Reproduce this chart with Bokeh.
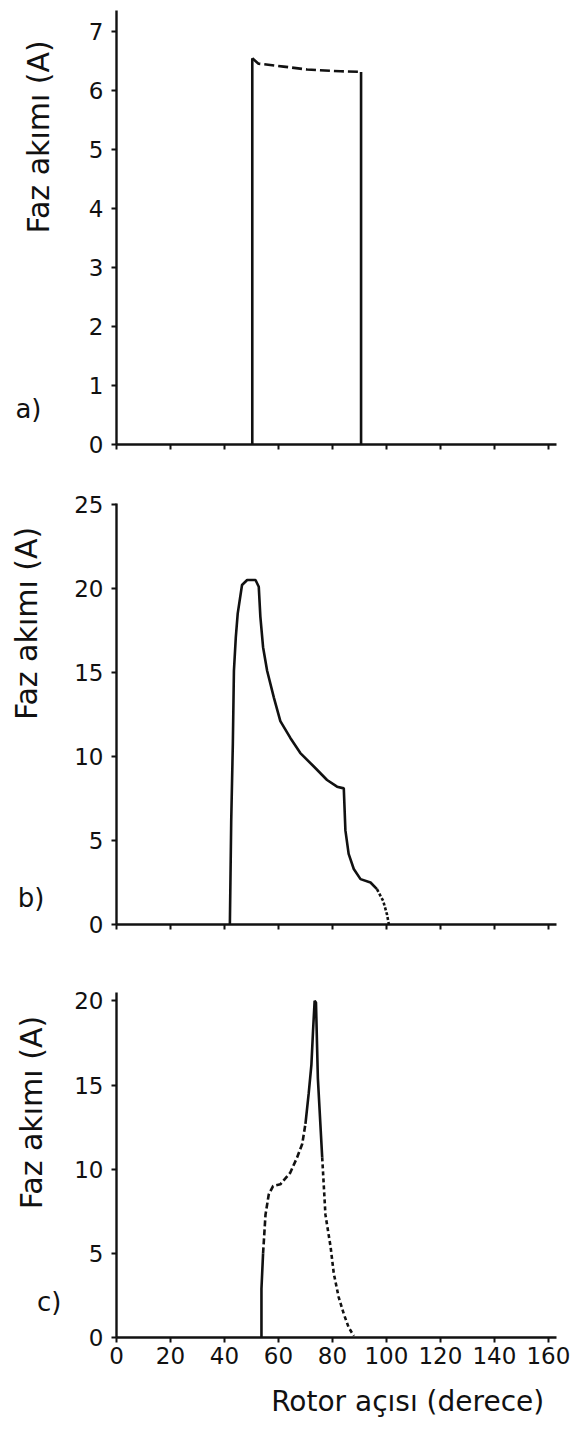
import math
from bokeh.plotting import figure
from bokeh.models import Range1d, FixedTicker, LinearAxis, CustomJSTickFormatter
from bokeh.layouts import column
from bokeh.embed import file_html
from bokeh.resources import INLINE

# ---- data ----
x_ticks = [0, 20, 40, 60, 80, 100, 120, 140, 160]
a_yticks = [0, 1, 2, 3, 4, 5, 6, 7]
b_yticks = [0, 5, 10, 15, 20, 25]
c_yticks = [0, 5, 10, 15, 20]

# a) rectangular pulse
a_deg = [50.3, 50.3, 52.6, 61.9, 70.6, 83.0, 90.6, 90.6]
a_cur = [0.0, 6.54, 6.45, 6.40, 6.35, 6.32, 6.31, 0.0]

# b)
b_deg = [42.0, 42.5, 43.1, 43.5, 44.2, 44.9, 46.5, 48.4, 51.5, 52.7, 53.3, 54.3,
         55.8, 58.3, 60.7, 64.4, 68.1, 73.1, 78.0, 81.7, 84.2, 84.8, 86.0, 87.9,
         90.4, 94.1, 96.5, 98.8, 100.2, 100.9]
b_cur = [0.0, 6.2, 10.75, 15.1, 17.1, 18.5, 20.2, 20.5, 20.5, 20.1, 18.3, 16.5,
         15.1, 13.5, 12.1, 11.1, 10.2, 9.4, 8.6, 8.2, 8.1, 5.6, 4.2, 3.3,
         2.7, 2.5, 2.1, 1.4, 0.6, 0.0]

# c)
c_deg = [53.7, 53.7, 54.3, 55.2, 56.4, 58.0, 60.7, 64.4, 66.9, 68.8, 70.0, 71.2,
         72.2, 72.8, 73.4, 73.9, 74.6, 76.2, 77.4, 79.3, 80.5, 82.3, 84.2, 86.0, 87.9]
c_cur = [0.0, 2.9, 5.0, 7.3, 8.5, 9.0, 9.1, 9.8, 10.7, 11.5, 12.7, 14.5,
         16.2, 18.2, 20.0, 19.9, 15.4, 10.7, 7.3, 5.4, 3.8, 2.4, 1.4, 0.6, 0.1]

y_label = "Faz akımı (A)"
x_label = "Rotor açısı (derece)"
panel_tags = ["a)", "b)", "c)"]

FONT = "DejaVu Sans"
INK = "#111111"
W = 572
X_END = 163
NBSP = "\u00a0"
LW = 2.6


def make_fig(height, top, bottom, ymax, yticks, show_xlabels, label_standoff, pad):
    p = figure(width=W, height=height, x_range=Range1d(0, X_END),
               y_range=Range1d(0, ymax), output_backend="svg",
               toolbar_location=None, min_border_left=116, min_border_right=16,
               min_border_top=top, min_border_bottom=bottom)
    p.outline_line_color = None
    p.grid.visible = False
    p.background_fill_color = None
    p.border_fill_color = None
    for ax in (p.xaxis[0], p.yaxis[0]):
        ax.axis_line_width = 2.4
        ax.axis_line_color = INK
        ax.major_tick_line_width = 2
        ax.major_tick_line_color = INK
        ax.major_tick_out = 5
        ax.major_tick_in = 0
        ax.minor_tick_line_color = None
        ax.major_label_text_font = FONT
        ax.major_label_text_font_size = "23px"
        ax.major_label_text_color = INK
        ax.axis_label_text_font = FONT
        ax.axis_label_text_font_style = "normal"
        ax.axis_label_text_color = INK
    p.xaxis.ticker = FixedTicker(ticks=x_ticks)
    p.yaxis.ticker = FixedTicker(ticks=yticks)
    p.yaxis.major_label_standoff = 8
    p.xaxis.major_label_standoff = 4
    # leading no-break spaces push the visible label towards the top of the axis
    p.yaxis.axis_label = NBSP * pad + y_label
    p.yaxis.axis_label_text_font_size = "30px"
    p.yaxis.axis_label_standoff = label_standoff
    if not show_xlabels:
        p.xaxis.major_label_overrides = {t: "" for t in x_ticks}
    return p


def add_tag(p, tag_value, tag, standoff):
    ax = LinearAxis(ticker=FixedTicker(ticks=[tag_value]),
                    formatter=CustomJSTickFormatter(code="return %r;" % tag))
    ax.axis_line_color = None
    ax.major_tick_line_color = None
    ax.minor_tick_line_color = None
    ax.major_tick_out = 0
    ax.major_tick_in = 0
    ax.major_label_standoff = standoff
    ax.major_label_text_font = FONT
    ax.major_label_text_font_size = "26px"
    ax.major_label_text_color = INK
    p.add_layout(ax, "left")


# panel a
pa = make_fig(470, 10, 26, 7.35, a_yticks, False, 30, 19)
pa.line(a_deg[0:2], a_cur[0:2], line_width=LW, color=INK)
pa.line(a_deg[1:7], a_cur[1:7], line_width=LW, color=INK, line_dash="10 4")
pa.line(a_deg[6:8], a_cur[6:8], line_width=LW, color=INK)
add_tag(pa, 0.6, panel_tags[0], -24)

# panel b
pb = make_fig(480, 33, 26, 25.05, b_yticks, False, 27, 19)
pb.line(b_deg[0:27], b_cur[0:27], line_width=LW, color=INK)
pb.line(b_deg[26:], b_cur[26:], line_width=LW, color=INK, line_dash="3 2")
add_tag(pb, 1.6, panel_tags[1], -38)

# panel c
pc = make_fig(478, 42, 91, 20.5, c_yticks, True, 22, 11)
pc.line(c_deg[0:3], c_cur[0:3], line_width=LW, color=INK)
pc.line(c_deg[2:11], c_cur[2:11], line_width=LW, color=INK, line_dash="6 3")
pc.line(c_deg[10:18], c_cur[10:18], line_width=LW, color=INK)
pc.line(c_deg[17:], c_cur[17:], line_width=LW, color=INK, line_dash="4 3")
add_tag(pc, 2.1, panel_tags[2], -50)
# leading no-break spaces move the visible x label to the right, as in the original
pc.xaxis.axis_label = NBSP * 16 + x_label
pc.xaxis.axis_label_text_font_size = "28px"
pc.xaxis.axis_label_standoff = 18

layout = column(pa, pb, pc, spacing=0)
open("out.html", "w").write(file_html(layout, INLINE))
